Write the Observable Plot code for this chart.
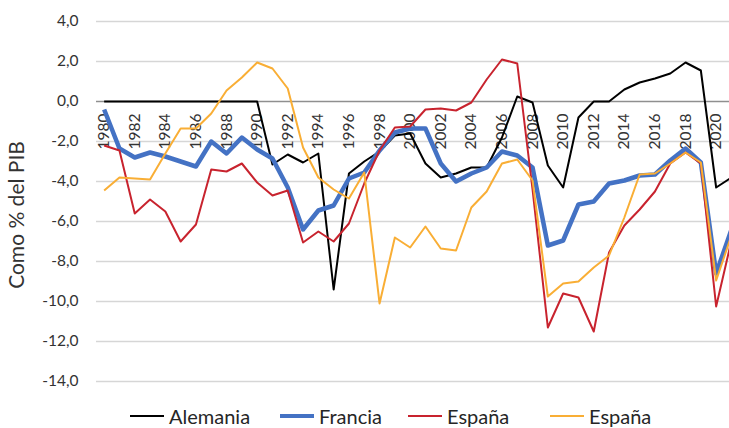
<!DOCTYPE html>
<html>
<head>
<meta charset="utf-8">
<script src="https://cdn.jsdelivr.net/npm/d3@7"></script>
<script src="https://cdn.jsdelivr.net/npm/@observablehq/plot@0.6"></script>
<style>
  body { margin: 0; background: #fff; font-family: Lato, "Open Sans", sans-serif; }
  #wrap { position: relative; width: 729px; height: 428px; overflow: hidden; }
  #ytitle { position: absolute; left: 15px; top: 215px; transform: translate(-50%, -50%) rotate(-90deg);
            white-space: nowrap; font-size: 21px; color: #333; }
  .item { position: absolute; top: 403px; height: 26px; display: flex; align-items: center; font-size: 20px; color: #262626; white-space: nowrap; }
  .sw { width: 34px; margin-right: 5px; }
</style>
</head>
<body>
<div id="wrap">
  <div id="chart"></div>
  <div id="ytitle">Como % del PIB</div>
  <div id="legend"></div>
</div>
<script>
const years = d3.range(1980, 2022);
const yTicks = [-14, -12, -10, -8, -6, -4, -2, 0, 2, 4];
const yearLabels = d3.range(1980, 2021, 2);

const alemania = [0,0,0,0,0,0,0,0,0,0,0,
  -3.15,-2.65,-3.05,-2.6,-9.4,-3.6,-3.0,-2.5,-1.7,-1.6,
  -3.1,-3.8,-3.6,-3.3,-3.3,-1.8,0.25,-0.05,-3.2,-4.3,
  -0.8,0,0,0.6,0.95,1.15,1.4,1.95,1.55,-4.3,-3.8];
const francia = [-0.4,-2.35,-2.8,-2.55,-2.75,-3.0,-3.25,-2.0,-2.6,-1.8,
  -2.4,-2.85,-4.3,-6.4,-5.45,-5.2,-3.85,-3.55,-2.45,-1.55,
  -1.35,-1.35,-3.1,-4.0,-3.6,-3.3,-2.5,-2.7,-3.3,-7.2,
  -6.95,-5.15,-5.0,-4.1,-3.95,-3.7,-3.65,-2.95,-2.35,-3.05,
  -8.6,-6.4];
const espana = [-2.2,-2.45,-5.6,-4.9,-5.5,-7.0,-6.15,-3.4,-3.5,-3.1,
  -4.05,-4.7,-4.45,-7.05,-6.5,-7.0,-6.1,-4.1,-2.45,-1.3,
  -1.25,-0.4,-0.35,-0.45,-0.05,1.1,2.1,1.9,-4.4,-11.3,
  -9.6,-9.8,-11.5,-7.55,-6.2,-5.4,-4.5,-3.1,-2.55,-3.1,
  -10.25,-6.95];
const espana2 = [-4.45,-3.8,-3.85,-3.9,-2.6,-1.35,-1.35,-0.6,0.55,1.2,
  1.95,1.65,0.65,-2.3,-3.8,-4.4,-4.85,-3.55,-10.1,-6.8,
  -7.3,-6.25,-7.35,-7.45,-5.3,-4.5,-3.1,-2.9,-3.95,-9.75,
  -9.1,-9.0,-8.3,-7.7,-5.8,-3.65,-3.6,-3.1,-2.55,-3.05,
  -8.95,-6.7];

const seriesNames = ["Alemania", "Francia", "España", "España"];
const seriesColors = ["#000000", "#4472C4", "#C8232E", "#F9AE35"];
const seriesWidths = [2, 4.5, 2, 2];
const seriesValues = [alemania, francia, espana, espana2];

const toRows = vals => years.map((y, i) => ({year: y, value: vals[i]}));

const fmt = d => d.toFixed(1).replace(".", ",");

const chart = Plot.plot({
  width: 729,
  height: 395,
  marginLeft: 96,
  marginRight: 0,
  marginTop: 21,
  marginBottom: 14,
  style: {fontFamily: "Lato, 'Open Sans', sans-serif", color: "#333", background: "#fff"},
  x: {type: "linear", domain: [1979.5, 2021.5], range: [96, 738.6], axis: null},
  y: {domain: [-14, 4], axis: null},
  marks: [
    Plot.ruleY(yTicks.filter(d => d !== 0), {stroke: "#d6d6d6", strokeWidth: 1.5}),
    Plot.ruleY([0], {stroke: "#8f8f8f", strokeWidth: 1.5}),
    Plot.axisY({ticks: yTicks, tickSize: 0, tickPadding: 18, fontSize: 15.5, tickFormat: fmt, label: null, fill: "#333"}),
    Plot.text(yearLabels, {x: d => d, y: () => 0, text: d => String(d), rotate: -90, textAnchor: "end", dy: 12, fontSize: 15.5, fill: "#333"}),
    ...seriesValues.map((vals, i) =>
      Plot.line(toRows(vals), {x: "year", y: "value", stroke: seriesColors[i], strokeWidth: seriesWidths[i], strokeLinejoin: "round", strokeLinecap: "butt"})
    )
  ]
});
document.getElementById("chart").appendChild(chart);

const legendLefts = [130, 280, 408, 550];
const legend = document.getElementById("legend");
seriesNames.forEach((name, i) => {
  const item = document.createElement("div");
  item.className = "item";
  item.style.left = legendLefts[i] + "px";
  const sw = document.createElement("span");
  sw.className = "sw";
  sw.style.height = seriesWidths[i] + "px";
  sw.style.background = seriesColors[i];
  const t = document.createElement("span");
  t.textContent = name;
  item.appendChild(sw);
  item.appendChild(t);
  legend.appendChild(item);
});
</script>
</body>
</html>
